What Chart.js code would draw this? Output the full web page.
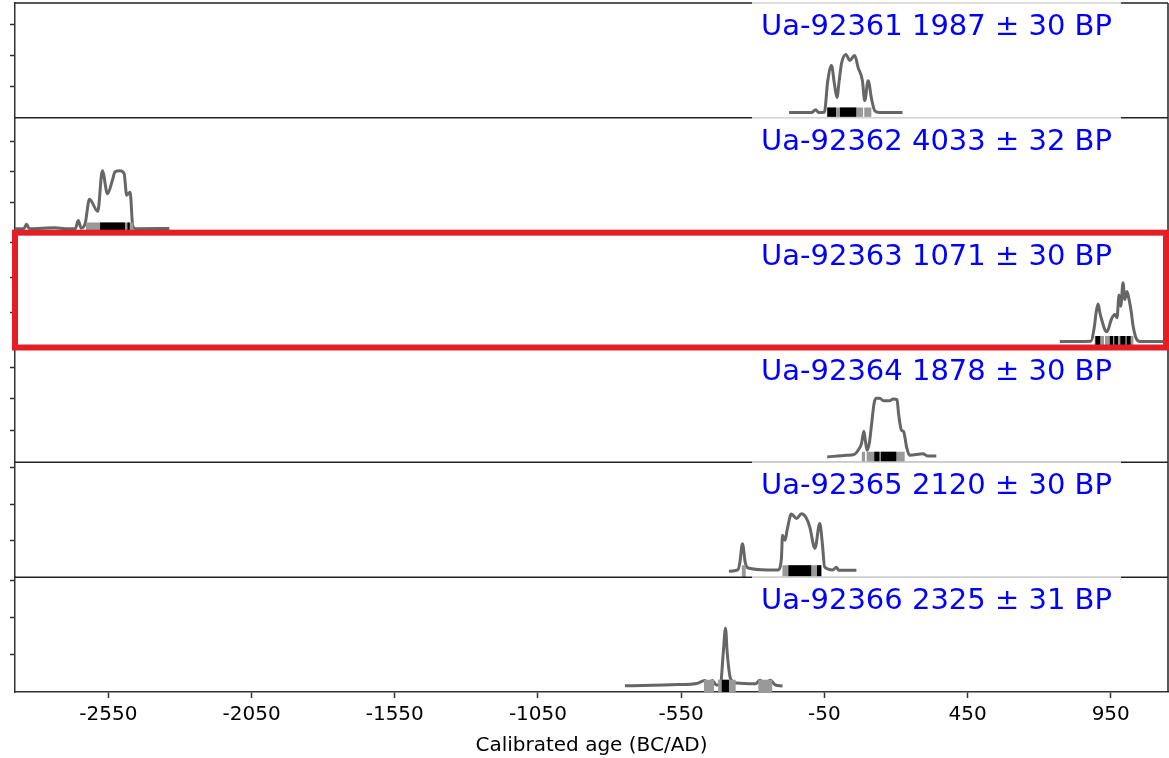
<!DOCTYPE html>
<html>
<head>
<meta charset="utf-8">
<script src="https://cdn.jsdelivr.net/npm/chart.js@4.4.1/dist/chart.umd.min.js"></script>
<style>
  html, body { margin: 0; padding: 0; background: #fff; }
</style>
</head>
<body>
<canvas id="calChart" width="1169" height="758"></canvas>
<script>
var labIds = ["Ua-92361", "Ua-92362", "Ua-92363", "Ua-92364", "Ua-92365", "Ua-92366"];
var bpAges = [1987, 4033, 1071, 1878, 2120, 2325];
var bpErrs = [30, 32, 30, 30, 30, 31];
var highlighted = 2; // sample boxed in red

var xTicks = [-2550, -2050, -1550, -1050, -550, -50, 450, 950];
var xMin = -2876, xMax = 1150;

// top of each panel's y axis, in tick steps
var panelMax = [3.68, 3.77, 3.28, 3.62, 3.15, 3.1];
var rangeBarTop = 0.33;

// probability curves (cal. year, density in tick steps)
var years1 = [-173, -95, -80, -70, -50, -38, -25, -15, -6, 2, 10, 25, 39, 56, 68, 83, 91, 103, 115, 126, 143, 223];
var dens1  = [0.17, 0.17, 0.26, 0.17, 0.18, 1.19, 1.68, 1.1, 0.65, 1.2, 1.74, 2.03, 1.84, 2.0, 1.61, 1.19, 0.55, 1.19, 0.6, 0.23, 0.17, 0.17];

var years2 = [-2876, -2845, -2836, -2826, -2735, -2700, -2665, -2655, -2645, -2631, -2616, -2587, -2571, -2553, -2535, -2527, -2509, -2495, -2486, -2474, -2465, -2455, -2337];
var dens2  = [0.13, 0.13, 0.28, 0.13, 0.16, 0.13, 0.14, 0.4, 0.15, 0.3, 1.1, 0.7, 2.03, 1.28, 1.75, 2.0, 2.03, 1.94, 1.23, 1.33, 0.23, 0.13, 0.14];

var years3 = [772, 880, 893, 899, 906, 912, 920, 930, 937, 952, 964, 972, 979, 985, 993, 999, 1007, 1014, 1022, 1028, 1039, 1052, 1150];
var dens3  = [0.17, 0.18, 0.6, 1.0, 1.24, 1.0, 0.75, 0.5, 0.45, 0.8, 0.94, 0.85, 1.5, 1.18, 1.85, 1.37, 1.6, 1.37, 1.0, 0.62, 0.26, 0.17, 0.17];

var years4 = [-40, 27, 55, 68, 80, 88, 93, 99, 107, 114, 124, 132, 143, 157, 178, 190, 204, 209, 219, 227, 237, 248, 295, 310, 341];
var dens4  = [0.17, 0.22, 0.25, 0.38, 0.6, 0.98, 0.7, 0.38, 0.6, 1.12, 1.87, 2.02, 2.02, 1.94, 1.94, 2.0, 1.97, 1.55, 1.02, 0.97, 0.49, 0.22, 0.27, 0.2, 0.2];

var years5 = [-383, -352, -345, -336, -326, -316, -250, -212, -200, -196, -187, -180, -165, -147, -130, -115, -101, -83, -66, -57, -49, -20, -8, 0, 62];
var dens5  = [0.16, 0.2, 0.4, 0.92, 0.4, 0.25, 0.2, 0.2, 0.5, 1.15, 1.01, 1.29, 1.73, 1.61, 1.74, 1.65, 1.38, 0.79, 1.47, 0.93, 0.28, 0.2, 0.27, 0.19, 0.19];

var years6 = [-746, -560, -496, -467, -456, -441, -427, -413, -403, -395, -389, -378, -357, -290, -275, -258, -238, -223, -196];
var dens6  = [0.17, 0.2, 0.23, 0.31, 0.24, 0.31, 0.19, 0.19, 1.05, 1.72, 1.05, 0.37, 0.24, 0.22, 0.32, 0.24, 0.32, 0.2, 0.16];

// 95.4% (grey) and 68.2% (black) ranges
var grey1 = [[-42, 86], [89, 115]];
var black1 = [[-40, -9], [4, 62]];
var grey2 = [[-2628, -2462]];
var black2 = [[-2579, -2492], [-2484, -2475]];
var grey3 = [[893, 927], [930, 1030]];
var black3 = [[896, 914], [946, 958], [962, 976], [983, 1002], [1005, 1020]];
var grey4 = [[80, 93], [97, 231]];
var black4 = [[124, 143], [147, 202]];
var grey5 = [[-339, -324], [-197, -58]];
var black5 = [[-176, -95], [-76, -61]];
var grey6 = [[-471, -435], [-421, -359], [-281, -231]];
var black6 = [[-409, -383]];

var allYears = [years1, years2, years3, years4, years5, years6];
var allDens = [dens1, dens2, dens3, dens4, dens5, dens6];
var allGrey = [grey1, grey2, grey3, grey4, grey5, grey6];
var allBlack = [black1, black2, black3, black4, black5, black6];

var fontFamily = "'DejaVu Sans', sans-serif";

function rangeSet(range, axis, colour, order) {
    return {
        type: "line",
        data: [{x: range[0], y: rangeBarTop}, {x: range[1], y: rangeBarTop}],
        yAxisID: axis,
        borderWidth: 0,
        borderColor: "rgba(0,0,0,0)",
        backgroundColor: colour,
        pointRadius: 0,
        fill: "origin",
        order: order
    };
}

var datasets = [];
var scales = {
    x: {
        type: "linear",
        min: xMin,
        max: xMax,
        afterBuildTicks: function (s) { s.ticks = xTicks.map(function (v) { return {value: v}; }); },
        afterFit: function (s) { s.height = 66; },
        ticks: {
            font: {family: fontFamily, size: 20},
            color: "#000",
            padding: 5,
            maxRotation: 0,
            autoSkip: false,
            callback: function (v) { return String(v); }
        },
        grid: {drawOnChartArea: false, tickLength: 6, tickColor: "#333", tickWidth: 1.5},
        border: {color: "#333", width: 1.5},
        title: {
            display: true,
            text: "Calibrated age (BC/AD)",
            font: {family: fontFamily, size: 20},
            color: "#000",
            padding: {top: 0, bottom: 0}
        }
    }
};

for (var i = 0; i < labIds.length; i++) {
    var axis = "y" + (i + 1);
    var ys = allYears[i], ds = allDens[i];
    datasets.push({
        type: "line",
        data: ys.map(function (x, j) { return {x: x, y: ds[j]}; }),
        yAxisID: axis,
        borderColor: "#666666",
        borderWidth: 3,
        pointRadius: 0,
        cubicInterpolationMode: "monotone",
        fill: false,
        order: 2
    });
    allGrey[i].forEach(function (r) { datasets.push(rangeSet(r, axis, "#999999", 1)); });
    allBlack[i].forEach(function (r) { datasets.push(rangeSet(r, axis, "#000000", 0)); });

    scales[axis] = {
        type: "linear",
        position: "left",
        stack: "panels",
        stackWeight: 1,
        weight: labIds.length - i,
        min: 0,
        max: panelMax[i],
        afterBuildTicks: function (s) {
            s.ticks = s.ticks.filter(function (t) { return t.value > 0 && Number.isInteger(t.value); });
        },
        afterFit: function (s) { s.width = 6; },
        ticks: {display: false, stepSize: 1, includeBounds: false},
        grid: {drawOnChartArea: false, tickLength: 5, tickColor: "#333", tickWidth: 1.5},
        border: {color: "#333", width: 1.5}
    };
}

var panelDecor = {
    id: "panelDecor",
    afterDatasetsDraw: function (chart) {
        var ctx = chart.ctx, area = chart.chartArea;
        ctx.save();
        // panel separators and frame
        ctx.strokeStyle = "#222";
        ctx.lineWidth = 1.5;
        ctx.beginPath();
        for (var k = 0; k < labIds.length; k++) {
            var s = chart.scales["y" + (k + 1)];
            if (k === 0) { ctx.moveTo(area.left, s.top); ctx.lineTo(area.right, s.top); }
            if (k < labIds.length - 1) { ctx.moveTo(area.left, s.bottom); ctx.lineTo(area.right, s.bottom); }
        }
        ctx.moveTo(area.right, area.top);
        ctx.lineTo(area.right, area.bottom);
        ctx.stroke();

        // sample labels
        ctx.font = "29px " + fontFamily;
        ctx.textAlign = "right";
        ctx.textBaseline = "alphabetic";
        for (var k = 0; k < labIds.length; k++) {
            var s = chart.scales["y" + (k + 1)];
            var txt = labIds[k] + " " + bpAges[k] + " \u00b1 " + bpErrs[k] + " BP";
            var w = ctx.measureText(txt).width;
            var xr = 1112;
            ctx.fillStyle = "rgba(255,255,255,0.8)";
            ctx.fillRect(xr - w - 9, s.top - 1, w + 18, 44);
            ctx.fillStyle = "#0000ff";
            ctx.fillText(txt, xr, s.top + 32);
        }

        // highlight box
        var hs = chart.scales["y" + (highlighted + 1)];
        ctx.strokeStyle = "#e31e24";
        ctx.lineWidth = 6;
        ctx.strokeRect(area.left, hs.top, area.right - area.left - 2, hs.bottom - hs.top);
        ctx.restore();
    }
};

new Chart(document.getElementById("calChart").getContext("2d"), {
    type: "line",
    data: {datasets: datasets},
    options: {
        responsive: false,
        animation: false,
        layout: {padding: {left: 9, right: 1, top: 3, bottom: 0}},
        scales: scales,
        plugins: {
            legend: {display: false},
            tooltip: {enabled: false}
        }
    },
    plugins: [panelDecor]
});
</script>
</body>
</html>
